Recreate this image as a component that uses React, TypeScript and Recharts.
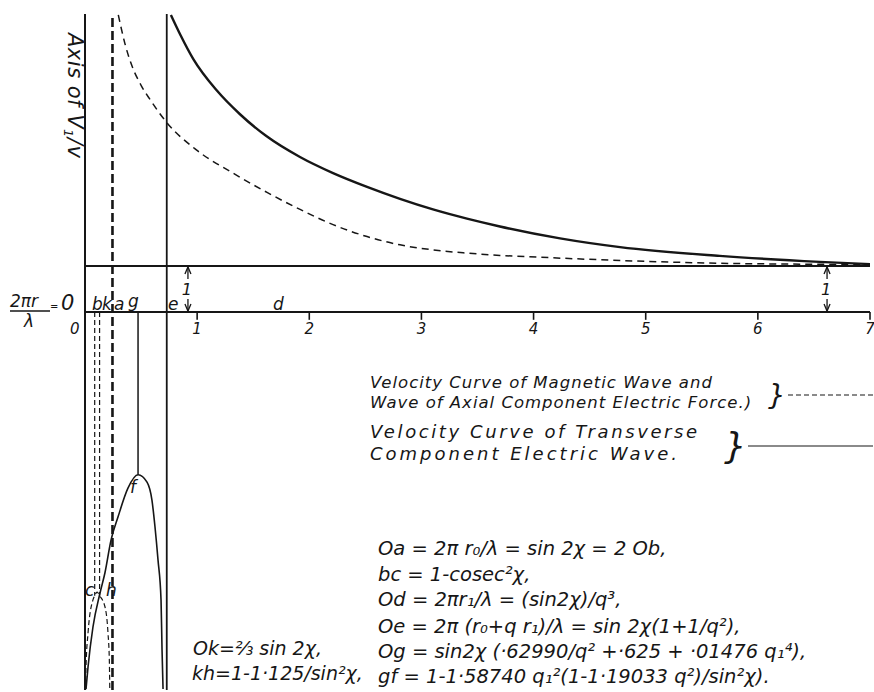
import React from "react"
import { ComposedChart, Line, XAxis, YAxis, ReferenceLine } from "recharts"

// 2πr/λ along the horizontal, V/v up the vertical
const X_DOMAIN: [number, number] = [0, 7]
const Y_DOMAIN: [number, number] = [-8.22, 6.48]
const TICKS = [1, 2, 3, 4, 5, 6, 7]

// magnetic wave / axial electric force, branch right of the asymptote
const MAG_UPPER_X = [0.297, 0.36, 0.416, 0.5, 0.58, 0.729, 0.996, 1.32, 1.623, 1.918, 2.212, 2.515, 2.809, 3.103, 3.406, 3.7, 4.06, 4.887, 5.66, 6.38, 7.0]
const MAG_UPPER_Y = [6.46, 5.8, 5.37, 4.93, 4.62, 4.12, 3.52, 3.02, 2.6, 2.23, 1.9, 1.64, 1.46, 1.35, 1.28, 1.23, 1.19, 1.11, 1.06, 1.04, 1.03]

// same curve, negative branch near the origin
const MAG_LOWER_X = [0.004, 0.009, 0.027, 0.071, 0.0865, 0.108, 0.13, 0.178, 0.205, 0.217, 0.221]
const MAG_LOWER_Y = [-8.2, -7.72, -6.98, -6.26, -6.17, -6.09, -6.17, -6.41, -6.98, -7.57, -8.2]

// transverse electric wave, right of e
const TRANS_UPPER_X = [0.766, 0.85, 0.966, 1.174, 1.382, 1.62, 1.917, 2.212, 2.515, 2.809, 3.103, 3.406, 3.7, 4.236, 4.771, 5.66, 6.55, 7.0]
const TRANS_UPPER_Y = [6.46, 6.03, 5.5, 4.82, 4.3, 3.82, 3.37, 3.02, 2.72, 2.46, 2.23, 2.03, 1.86, 1.6, 1.41, 1.22, 1.09, 1.04]

// transverse wave, arch through f below the axis
const TRANS_LOWER_X = [0.009, 0.027, 0.071, 0.134, 0.178, 0.232, 0.294, 0.383, 0.473, 0.553, 0.597, 0.624, 0.651, 0.678, 0.687, 0.696]
const TRANS_LOWER_Y = [-8.2, -7.72, -6.85, -6.11, -5.67, -4.96, -4.46, -3.83, -3.54, -3.7, -4.09, -4.67, -5.39, -6.26, -7.35, -8.2]

// marked abscissae and ordinates
const OB = 0.0865
const OK = 0.13
const OK_ASYMPTOTE = 0.245
const OG = 0.473
const OE = 0.729
const GF = -3.54
const BC = -6.17
const UNIT_ARROWS = [0.918, 6.617]

const zip = (xs: number[], ys: number[]) => xs.map((x, i) => ({ x, y: ys[i] }))

const INK = "#161616"
const FONT = '"DejaVu Sans", sans-serif'

function UnitArrow(props: any) {
  const { x1, y1, y2 } = props
  const x = x1
  const top = Math.min(y1, y2)
  const bot = Math.max(y1, y2)
  const mid = (top + bot) / 2
  return (
    <g>
      <g stroke={INK} strokeWidth={1.3} fill="none">
        <line x1={x} y1={top + 1} x2={x} y2={top + 13} />
        <path d={`M${x - 3},${top + 8} L${x},${top + 1} L${x + 3},${top + 8}`} />
        <line x1={x} y1={bot - 13} x2={x} y2={bot - 1} />
        <path d={`M${x - 3},${bot - 8} L${x},${bot - 1} L${x + 3},${bot - 8}`} />
      </g>
      <text x={x - 1} y={mid + 6} fontSize={16} fontStyle="italic" fontFamily={FONT} fill={INK} textAnchor="middle">
        1
      </text>
    </g>
  )
}

function Lettering() {
  const t = { fontFamily: FONT, fontStyle: "italic" as const, fill: INK }
  return (
    <svg width={874} height={692} style={{ position: "absolute", left: 0, top: 0, pointerEvents: "none" }}>
      <text {...t} fontSize={21} transform="translate(68,33) rotate(90)" letterSpacing={0.5}>
        Axis of V<tspan fontSize={13} dy={4}>1</tspan>
        <tspan dy={-4}>/v</tspan>
      </text>

      <text {...t} fontSize={17} x={10} y={307}>2πr</text>
      <line x1={10} y1={311} x2={50} y2={311} stroke={INK} strokeWidth={1.4} />
      <text {...t} fontSize={17} x={24} y={327}>λ</text>
      <text {...t} fontSize={10} x={50} y={310}>=</text>
      <text {...t} fontSize={21} x={61} y={310}>0</text>
      <text {...t} fontSize={15} x={70} y={334}>0</text>

      <g fontSize={17}>
        <text {...t} x={92} y={310}>b</text>
        <text {...t} x={102} y={310}>k</text>
        <text {...t} x={114} y={310}>a</text>
        <text {...t} x={128} y={307}>g</text>
        <text {...t} x={168} y={310}>e</text>
        <text {...t} x={273} y={310}>d</text>
        <text {...t} x={85} y={596}>c</text>
        <text {...t} x={106} y={596}>h</text>
        <text {...t} x={130} y={493}>f</text>
      </g>

      <g fontSize={16.5} letterSpacing={1}>
        <text {...t} x={370} y={388}>Velocity Curve of Magnetic Wave and</text>
        <text {...t} x={370} y={408}>Wave of Axial Component Electric Force.)</text>
      </g>
      <text {...t} fontSize={28} x={768} y={405}>{"}"}</text>
      <line x1={788} y1={395} x2={873} y2={395} stroke={INK} strokeWidth={1.2} strokeDasharray="5 3" />

      <g fontSize={18}>
        <text {...t} x={370} y={438} letterSpacing={2.6}>Velocity Curve of Transverse</text>
        <text {...t} x={370} y={460} letterSpacing={3}>Component  Electric  Wave.</text>
      </g>
      <text {...t} fontSize={36} x={724} y={458}>{"}"}</text>
      <line x1={748} y1={446} x2={873} y2={446} stroke={INK} strokeWidth={1.2} />

      <g fontSize={19.5}>
        <text {...t} x={378} y={555}>Oa = 2π r₀/λ = sin 2χ = 2 Ob,</text>
        <text {...t} x={378} y={581}>bc = 1-cosec²χ,</text>
        <text {...t} x={378} y={606}>Od = 2πr₁/λ = (sin2χ)/q³,</text>
        <text {...t} x={378} y={633}>Oe = 2π (r₀+q r₁)/λ = sin 2χ(1+1/q²),</text>
        <text {...t} x={378} y={658}>Og = sin2χ (·62990/q² +·625 + ·01476 q₁⁴),</text>
        <text {...t} x={378} y={683}>gf = 1-1·58740 q₁²(1-1·19033 q²)/sin²χ).</text>
      </g>
      <g fontSize={19}>
        <text {...t} x={193} y={655}>Ok=⅔ sin 2χ,</text>
        <text {...t} x={192} y={680}>kh=1-1·125/sin²χ,</text>
      </g>
    </svg>
  )
}

export default function App() {
  return (
    <div style={{ position: "absolute", left: 0, top: 0, width: 874, height: 692, background: "#fff" }}>
      <ComposedChart width={874} height={692} margin={{ top: 14, right: 4, bottom: 2, left: 85 }}>
        <XAxis type="number" dataKey="x" domain={X_DOMAIN} hide allowDataOverflow />
        <YAxis type="number" domain={Y_DOMAIN} hide allowDataOverflow />

        {/* axes and the V/v = 1 line */}
        <ReferenceLine x={0} stroke={INK} strokeWidth={2} />
        <ReferenceLine segment={[{ x: 0, y: 0 }, { x: 7, y: 0 }]} stroke={INK} strokeWidth={2} />
        <ReferenceLine segment={[{ x: 0, y: 1 }, { x: 7, y: 1 }]} stroke={INK} strokeWidth={2} />
        {TICKS.map((t) => (
          <ReferenceLine
            key={t}
            segment={[{ x: t, y: 0 }, { x: t, y: -0.17 }]}
            stroke={INK}
            strokeWidth={1.6}
            label={{ value: String(t), position: "bottom", offset: 4, fontSize: 15, fontStyle: "italic", fontFamily: FONT, fill: INK }}
          />
        ))}

        {/* construction lines */}
        <ReferenceLine x={OK_ASYMPTOTE} stroke={INK} strokeWidth={2.6} strokeDasharray="9 4" />
        <ReferenceLine x={OE} stroke={INK} strokeWidth={1.8} />
        <ReferenceLine segment={[{ x: OG, y: 0 }, { x: OG, y: GF }]} stroke={INK} strokeWidth={1.5} />
        <ReferenceLine segment={[{ x: OB, y: 0 }, { x: OB, y: BC }]} stroke={INK} strokeWidth={1.2} strokeDasharray="5 3" />
        <ReferenceLine segment={[{ x: OK, y: 0 }, { x: OK, y: BC }]} stroke={INK} strokeWidth={1.2} strokeDasharray="5 3" />
        {UNIT_ARROWS.map((a) => (
          <ReferenceLine key={a} segment={[{ x: a, y: 1 }, { x: a, y: 0 }]} shape={(p: any) => <UnitArrow {...p} />} />
        ))}

        <Line data={zip(MAG_UPPER_X, MAG_UPPER_Y)} dataKey="y" type="monotone" stroke={INK} strokeWidth={1.5} strokeDasharray="7 5" dot={false} isAnimationActive={false} />
        <Line data={zip(MAG_LOWER_X, MAG_LOWER_Y)} dataKey="y" type="monotone" stroke={INK} strokeWidth={1.2} strokeDasharray="5 3" dot={false} isAnimationActive={false} />
        <Line data={zip(TRANS_UPPER_X, TRANS_UPPER_Y)} dataKey="y" type="monotone" stroke={INK} strokeWidth={2.4} dot={false} isAnimationActive={false} />
        <Line data={zip(TRANS_LOWER_X, TRANS_LOWER_Y)} dataKey="y" type="monotone" stroke={INK} strokeWidth={1.6} dot={false} isAnimationActive={false} />
      </ComposedChart>
      <Lettering />
    </div>
  )
}
